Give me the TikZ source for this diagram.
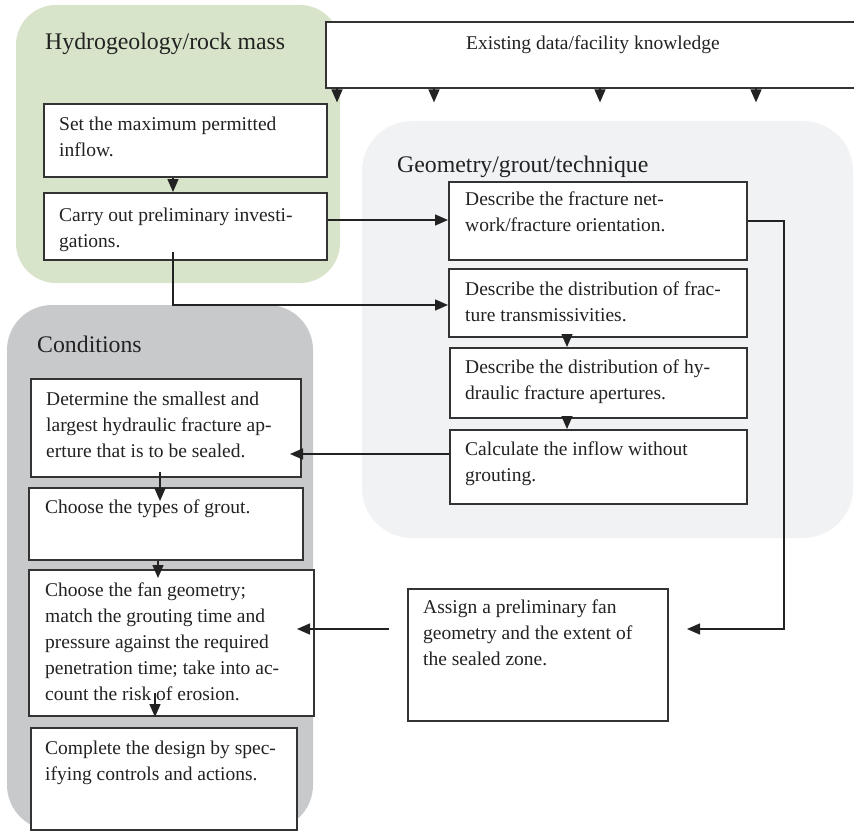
\documentclass[tikz,border=0pt]{standalone}
\usepackage{fontspec}
\setmainfont{Liberation Serif}
\usetikzlibrary{arrows.meta}
\definecolor{greenreg}{HTML}{D8E4C9}
\definecolor{geomreg}{HTML}{F1F2F4}
\definecolor{condreg}{HTML}{C8C9CB}
\definecolor{boxline}{HTML}{333333}
\definecolor{inkc}{HTML}{222222}
\newcommand\bodyfont{\fontsize{19.5pt}{26pt}\selectfont}
\newcommand\titlefont{\fontsize{23.8pt}{30pt}\selectfont}
\newcommand\txtlines[1]{\begin{tabular}[t]{@{}l@{}}#1\end{tabular}}
\begin{document}
\begin{tikzpicture}[x=1pt,y=-1pt,
  stepbox/.style={draw=boxline, line width=2pt, fill=white, anchor=north west, inner sep=0pt},
  txt/.style={anchor=base west, inner sep=0pt, font=\bodyfont, text=inkc},
  ttl/.style={anchor=base west, inner sep=0pt, font=\titlefont, text=inkc},
  conn/.style={line width=1.5pt, draw=inkc},
  arr/.style={conn, -{Triangle[length=13pt,width=11pt]}}]
\useasboundingbox (0,0) rectangle (854,832);
% regions
\fill[greenreg, rounded corners=40pt] (16,5) rectangle (340,283);
\fill[geomreg, rounded corners=50pt] (362,121) rectangle (853,538);
\fill[condreg, rounded corners=45pt] (7,305) rectangle (313,830);
% titles
\node[ttl] (thyd) at (45,50) {Hydrogeology/rock mass};
\node[ttl] (tgeo) at (397,172) {Geometry/grout/technique};
\node[ttl] (tcon) at (37,352) {Conditions};
% existing data box (open on the right)
\node[anchor=north west, inner sep=0pt, minimum width=528pt, minimum height=66pt] (E) at (326,22) {};
\fill[white] (E.north west) rectangle (E.south east);
\draw[draw=boxline, line width=2pt] (E.north east) -- (E.north west) -- (E.south west) -- (E.south east);
\node[txt] (tE) at (466,50) {Existing data/facility knowledge};
% boxes
\node[stepbox, minimum width=283pt, minimum height=73pt] (A) at (43,103) {};
\node[stepbox, minimum width=283pt, minimum height=67pt] (B) at (43,192) {};
\node[stepbox, minimum width=298pt, minimum height=78pt] (C1) at (448,181) {};
\node[stepbox, minimum width=298pt, minimum height=68pt] (C2) at (448,268) {};
\node[stepbox, minimum width=297pt, minimum height=70pt] (C3) at (449,347) {};
\node[stepbox, minimum width=297pt, minimum height=74pt] (C4) at (449,429) {};
\node[stepbox, minimum width=270pt, minimum height=98pt] (D1) at (30,378) {};
\node[stepbox, minimum width=274pt, minimum height=72pt] (D2) at (28,487) {};
\node[stepbox, minimum width=285pt, minimum height=146pt] (D3) at (28,569) {};
\node[stepbox, minimum width=266pt, minimum height=102pt] (D4) at (30,727) {};
\node[stepbox, minimum width=260pt, minimum height=132pt] (F) at (407,588) {};
% texts
\node[txt] (tA) at (59,131) {\txtlines{Set the maximum permitted\\inflow.}};
\node[txt] (tB) at (59,221) {\txtlines{Carry out preliminary investi-\\gations.}};
\node[txt] (tC1) at (465,205) {\txtlines{Describe the fracture net-\\work/fracture orientation.}};
\node[txt] (tC2) at (465,295) {\txtlines{Describe the distribution of frac-\\ture transmissivities.}};
\node[txt] (tC3) at (465,373) {\txtlines{Describe the distribution of hy-\\draulic fracture apertures.}};
\node[txt] (tC4) at (465,455) {\txtlines{Calculate the inflow without\\grouting.}};
\node[txt] (tD1) at (46,405) {\txtlines{Determine the smallest and\\largest hydraulic fracture ap-\\erture that is to be sealed.}};
\node[txt] (tD2) at (45,513) {\txtlines{Choose the types of grout.}};
\node[txt] (tD3) at (45,596) {\txtlines{Choose the fan geometry;\\match the grouting time and\\pressure against the required\\penetration time; take into ac-\\count the risk of erosion.}};
\node[txt] (tD4) at (45,754) {\txtlines{Complete the design by spec-\\ifying controls and actions.}};
\node[txt] (tF) at (423,613) {\txtlines{Assign a preliminary fan\\geometry and the extent of\\the sealed zone.}};
% connectors
\foreach \xx in {337,434,600,756} {
  \coordinate (ex) at (\xx,0);
  \draw[arr] (ex |- E.south) -- ++(0,14);
}
\coordinate (xab) at (173,0);
\draw[arr] (xab |- A.south) -- (xab |- B.north);
\coordinate (ybc) at (0,220);
\draw[arr] (B.east |- ybc) -- (C1.west |- ybc);
\coordinate (ybc2) at (0,305);
\draw[arr] (173,252) -- (xab |- ybc2) -- (C2.west |- ybc2);
\coordinate (xr) at (784,0);
\coordinate (yc1) at (0,221);
\coordinate (ftip) at (687,629);
\draw[arr] (C1.east |- yc1) -- (xr |- yc1) -- (xr |- ftip) -- (ftip);
\coordinate (xc) at (567,0);
\draw[arr] (xc |- C2.south) -- (xc |- C3.north);
\draw[arr] (xc |- C3.south) -- (xc |- C4.north);
\coordinate (d1tip) at (290,454);
\draw[arr] (C4.west |- d1tip) -- (d1tip);
\coordinate (d12s) at (160,472);
\coordinate (d12t) at (160,501);
\draw[arr] (d12s) -- (d12t);
\coordinate (d23t) at (158,578);
\draw[arr] (d23t |- D2.south) -- (d23t);
\coordinate (fs) at (389,629);
\coordinate (d3tip) at (297,629);
\draw[arr] (fs) -- (d3tip);
\coordinate (d34s) at (155,693);
\draw[arr] (d34s) -- (d34s |- D3.south);
\end{tikzpicture}
\end{document}
